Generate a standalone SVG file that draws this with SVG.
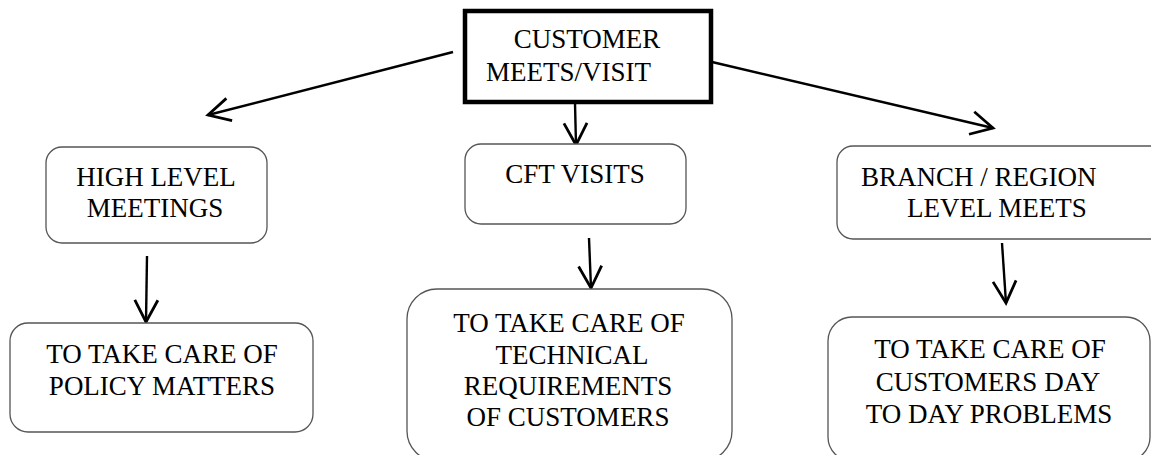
<svg xmlns="http://www.w3.org/2000/svg" width="1151" height="455" viewBox="0 0 1151 455">
<defs>
<marker id="arr" markerUnits="userSpaceOnUse" markerWidth="30" markerHeight="30" viewBox="-22 -13 26 26" refX="0" refY="0" orient="auto" overflow="visible">
<path d="M-19,-10 L0,0 L-19,10" fill="none" stroke="#000" stroke-width="2.4"/>
</marker>
</defs>
<rect width="1151" height="455" fill="#fff"/>
<g id="connectors" fill="none" stroke="#000" stroke-width="2.4" marker-end="url(#arr)">
<line x1="453" y1="52" x2="208" y2="115"/>
<line x1="575" y1="103" x2="576" y2="145"/>
<line x1="712" y1="62" x2="993" y2="128"/>
<line x1="147" y1="256" x2="146" y2="322"/>
<line x1="589" y1="238" x2="591" y2="288"/>
<line x1="1002" y1="243" x2="1006" y2="303"/>
</g>
<g font-family="Liberation Serif" font-size="27" fill="#000">
<g id="customer">
<rect fill="#fff" stroke="#000" stroke-width="4.5" x="465" y="11" width="246" height="91"/>
<text text-anchor="middle" x="587" y="48">CUSTOMER</text>
<text x="486" y="81">MEETS/VISIT</text>
</g>
<g id="high">
<rect fill="#fff" stroke="#555" stroke-width="1.3" x="46" y="147" width="221" height="96" rx="16"/>
<text text-anchor="middle" x="156" y="186">HIGH LEVEL</text>
<text text-anchor="middle" x="155" y="217">MEETINGS</text>
</g>
<g id="cft">
<rect fill="#fff" stroke="#555" stroke-width="1.3" x="465" y="144" width="221" height="80" rx="16"/>
<text text-anchor="middle" x="575" y="183">CFT VISITS</text>
</g>
<g id="branch">
<rect fill="#fff" stroke="#555" stroke-width="1.3" x="837" y="146" width="330" height="93" rx="16"/>
<text x="861" y="186">BRANCH / REGION</text>
<text x="907" y="217">LEVEL MEETS</text>
</g>
<g id="policy">
<rect fill="#fff" stroke="#555" stroke-width="1.3" x="10" y="323" width="303" height="109" rx="18"/>
<text text-anchor="middle" x="162" y="363">TO TAKE CARE OF</text>
<text text-anchor="middle" x="162" y="395">POLICY MATTERS</text>
</g>
<g id="technical">
<rect fill="#fff" stroke="#555" stroke-width="1.3" x="407" y="289" width="325" height="172" rx="30"/>
<text text-anchor="middle" x="569" y="332">TO TAKE CARE OF</text>
<text text-anchor="middle" x="572" y="364">TECHNICAL</text>
<text text-anchor="middle" x="568" y="395">REQUIREMENTS</text>
<text text-anchor="middle" x="568" y="426">OF CUSTOMERS</text>
</g>
<g id="daytoday">
<rect fill="#fff" stroke="#555" stroke-width="1.3" x="828" y="317" width="322" height="144" rx="24"/>
<text text-anchor="middle" x="990" y="358">TO TAKE CARE OF</text>
<text text-anchor="middle" x="988" y="391">CUSTOMERS DAY</text>
<text text-anchor="middle" x="989" y="423">TO DAY PROBLEMS</text>
</g>
</g>
</svg>
